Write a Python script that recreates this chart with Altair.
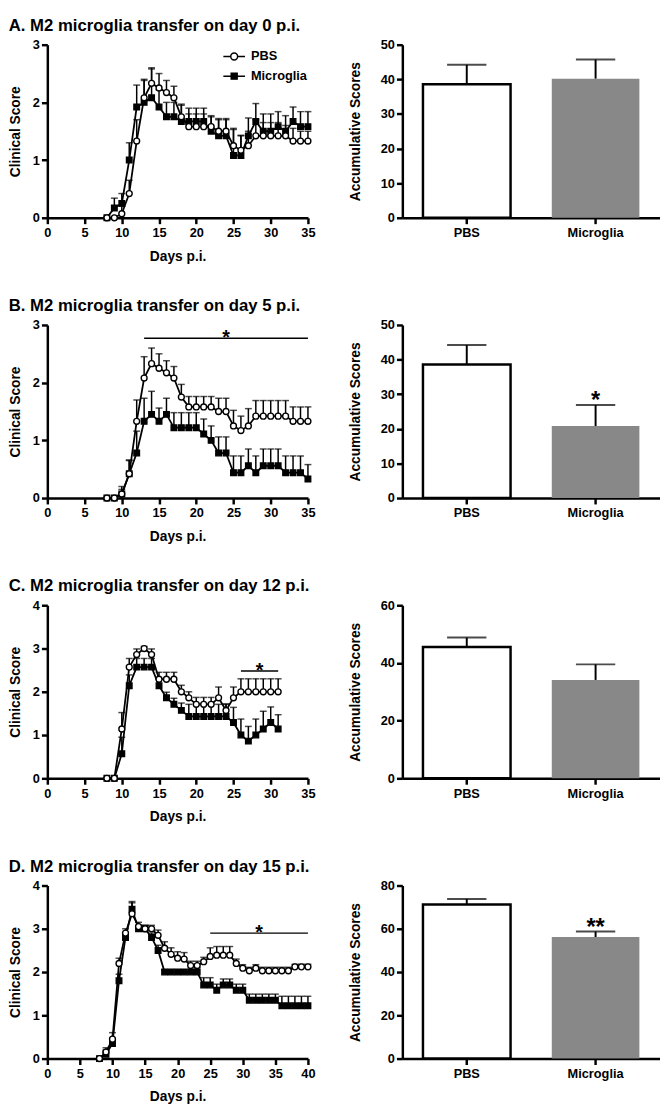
import altair as alt
import pandas as pd

FONT = "Liberation Sans"

panel_titles = [
    "A. M2 microglia transfer on day 0 p.i.",
    "B. M2 microglia transfer on day 5 p.i.",
    "C. M2 microglia transfer on day 12 p.i.",
    "D. M2 microglia transfer on day 15 p.i.",
]
groups = ["PBS", "Microglia"]

# ---- Panel A (days 8..35)
a_days = list(range(8, 36))
a_pbs = [0, 0, 0.07, 0.42, 1.33, 2.08, 2.33, 2.25, 2.17, 2.08, 1.75, 1.58, 1.58, 1.58,
         1.58, 1.5, 1.5, 1.25, 1.17, 1.25, 1.42, 1.42, 1.42, 1.42, 1.42, 1.33, 1.33, 1.33]
a_pbs_sem = [0, 0, 0.13, 0.23, 0.37, 0.3, 0.27, 0.25, 0.21, 0.2, 0.2, 0.22, 0.22, 0.22,
             0.17, 0.2, 0.2, 0.3, 0.25, 0.25, 0.28, 0.23, 0.23, 0.23, 0.18, 0.22, 0.17, 0.17]
a_mic = [0, 0.17, 0.25, 1.0, 1.92, 2.0, 2.08, 1.92, 1.75, 1.75, 1.67, 1.67, 1.67, 1.67,
         1.5, 1.42, 1.42, 1.08, 1.08, 1.42, 1.67, 1.5, 1.5, 1.58, 1.5, 1.67, 1.58, 1.58]
a_mic_sem = [0, 0.17, 0.17, 0.3, 0.38, 0.4, 0.5, 0.3, 0.25, 0.25, 0.3, 0.23, 0.23, 0.23,
             0.27, 0.3, 0.3, 0.45, 0.35, 0.31, 0.31, 0.3, 0.3, 0.26, 0.27, 0.25, 0.26, 0.26]

# ---- Panel B (days 8..35)
b_days = list(range(8, 36))
b_pbs = [0, 0, 0.07, 0.42, 1.33, 2.08, 2.33, 2.25, 2.17, 2.08, 1.75, 1.58, 1.58, 1.58,
         1.58, 1.5, 1.5, 1.25, 1.17, 1.25, 1.42, 1.42, 1.42, 1.42, 1.42, 1.33, 1.33, 1.33]
b_pbs_sem = [0, 0, 0.13, 0.23, 0.37, 0.37, 0.27, 0.25, 0.21, 0.2, 0.22, 0.18, 0.18, 0.18,
             0.18, 0.23, 0.23, 0.27, 0.25, 0.3, 0.27, 0.27, 0.27, 0.27, 0.27, 0.25, 0.25, 0.25]
b_mic = [0, 0, 0.07, 0.42, 0.78, 1.33, 1.45, 1.33, 1.45, 1.22, 1.22, 1.22, 1.22, 1.11,
         1.0, 0.78, 0.78, 0.44, 0.44, 0.56, 0.44, 0.56, 0.56, 0.56, 0.44, 0.44, 0.44, 0.33]
b_mic_sem = [0, 0, 0.08, 0.24, 0.38, 0.4, 0.4, 0.23, 0.28, 0.26, 0.26, 0.26, 0.26, 0.26,
             0.25, 0.28, 0.28, 0.29, 0.29, 0.29, 0.29, 0.29, 0.29, 0.29, 0.29, 0.29, 0.29, 0.25]

# ---- Panel C (days 8..31)
c_days = list(range(8, 32))
c_pbs = [0, 0, 1.14, 2.57, 2.86, 3.0, 2.86, 2.29, 2.29, 2.29, 2.0, 1.86, 1.71, 1.71,
         1.71, 1.86, 1.57, 1.86, 2.0, 2.0, 2.0, 2.0, 2.0, 2.0]
c_pbs_sem = [0, 0, 0.38, 0.2, 0.13, 0.05, 0.13, 0.16, 0.16, 0.16, 0.15, 0.14, 0.16, 0.16,
             0.16, 0.25, 0.15, 0.25, 0.3, 0.3, 0.3, 0.3, 0.3, 0.3]
c_mic = [0, 0, 0.57, 2.14, 2.57, 2.57, 2.57, 2.14, 1.86, 1.71, 1.57, 1.43, 1.43, 1.43,
         1.43, 1.43, 1.43, 1.29, 1.0, 0.86, 1.0, 1.14, 1.29, 1.14]
c_mic_sem = [0, 0, 0.38, 0.25, 0.2, 0.2, 0.2, 0.15, 0.13, 0.14, 0.17, 0.28, 0.28, 0.28,
             0.28, 0.28, 0.28, 0.35, 0.37, 0.34, 0.37, 0.41, 0.36, 0.33]

# ---- Panel D (days 8..40)
d_days = list(range(8, 41))
d_pbs = [0, 0.15, 0.45, 2.2, 2.9, 3.35, 3.05, 3.0, 3.0, 2.85, 2.55, 2.41, 2.32, 2.3,
         2.15, 2.15, 2.24, 2.36, 2.39, 2.39, 2.39, 2.2, 2.09, 2.03, 2.09, 2.03, 2.03,
         2.03, 2.03, 2.03, 2.12, 2.12, 2.12]
d_pbs_sem = [0, 0.1, 0.15, 0.12, 0.1, 0.25, 0.1, 0.08, 0.08, 0.12, 0.15, 0.15, 0.15, 0.15,
             0.1, 0.1, 0.1, 0.2, 0.2, 0.2, 0.2, 0.1, 0.08, 0.08, 0.08, 0.08, 0.08,
             0.08, 0.08, 0.08, 0.06, 0.06, 0.06]
d_mic = [0, 0.1, 0.35, 1.8, 2.8, 3.45, 3.0, 3.0, 2.8, 2.5, 2.0, 2.0, 2.0, 2.0,
         2.0, 2.0, 1.7, 1.7, 1.58, 1.7, 1.7, 1.58, 1.58, 1.35, 1.35, 1.35, 1.35,
         1.35, 1.22, 1.22, 1.22, 1.22, 1.22]
d_mic_sem = [0, 0.1, 0.1, 0.15, 0.1, 0.18, 0.08, 0.08, 0.1, 0.12, 0.05, 0, 0, 0,
             0, 0.1, 0.17, 0.17, 0.14, 0.14, 0.14, 0.14, 0.14, 0.14, 0.14, 0.14, 0.14,
             0.14, 0.22, 0.22, 0.22, 0.22, 0.22]

DAYS = [a_days, b_days, c_days, d_days]
PBS = [a_pbs, b_pbs, c_pbs, d_pbs]
PBS_SEM = [a_pbs_sem, b_pbs_sem, c_pbs_sem, d_pbs_sem]
MIC = [a_mic, b_mic, c_mic, d_mic]
MIC_SEM = [a_mic_sem, b_mic_sem, c_mic_sem, d_mic_sem]

x_max = [35, 35, 35, 40]
y_max = [3, 3, 4, 4]

# significance bars on the time-course plots (panel A has none)
sig_start = [None, 13, 26, 25]
sig_end = [None, 35, 31, 40]
sig_y = [None, 2.77, 2.48, 2.9]

# ---- Accumulative scores
bar_pbs = [38.6, 38.6, 45.5, 71.2]
bar_pbs_sem = [5.6, 5.6, 3.3, 2.6]
bar_mic = [40.2, 20.8, 34.1, 56.2]
bar_mic_sem = [5.5, 6.1, 5.4, 2.5]
bar_stars = ["", "*", "", "**"]
bar_max = [50, 50, 60, 80]
bar_step = [10, 10, 20, 20]

PATH_CIRCLE = ("M-1.57,0L-0.5,0M0.5,0L1.57,0"
               "M0.5,0A0.5,0.5,0,1,1,-0.5,0A0.5,0.5,0,1,1,0.5,0Z")
PATH_SQUARE = "M-1.57,0L1.57,0M-0.43,-0.43L0.43,-0.43L0.43,0.43L-0.43,0.43Z"


def line_panel(i):
    rows = []
    for g, means, sems in (("PBS", PBS[i], PBS_SEM[i]), ("Microglia", MIC[i], MIC_SEM[i])):
        for d, m, s in zip(DAYS[i], means, sems):
            rows.append({"day": d, "group": g, "mean": m, "upper": m + s, "sem": s})
    df = pd.DataFrame(rows)
    xs = alt.Scale(domain=[0, x_max[i]], nice=False)
    ys = alt.Scale(domain=[0, y_max[i]], nice=False)
    xaxis = alt.Axis(values=list(range(0, x_max[i] + 1, 5)), labelFlush=False,
                     labelPadding=3, titlePadding=10)
    yaxis = alt.Axis(values=list(range(0, y_max[i] + 1)), labelFlush=False, titlePadding=10)

    def X(f):
        return alt.X(f, scale=xs, axis=xaxis, title="Days p.i.")

    def Y(f):
        return alt.Y(f, scale=ys, axis=yaxis, title="Clinical Score")

    base = alt.Chart(df)
    layers = []
    for g, shape, fill, size in (("Microglia", "square", "black", 32),
                                 ("PBS", "circle", "white", 36)):
        sub = base.transform_filter(alt.datum.group == g)
        eb = sub.transform_filter(alt.datum.sem > 0)
        layers.append(eb.mark_rule(color="black", strokeWidth=1.5).encode(
            x=X("day:Q"), y=Y("mean:Q"), y2="upper:Q"))
        layers.append(eb.mark_tick(orient="horizontal", size=7, thickness=1.5,
                                   color="black").encode(x=X("day:Q"), y=Y("upper:Q")))
        layers.append(sub.mark_line(color="black", strokeWidth=1.8).encode(
            x=X("day:Q"), y=Y("mean:Q")))
        layers.append(sub.mark_point(shape=shape, filled=True, fill=fill, stroke="black",
                                     strokeWidth=1.4, size=size, opacity=1).encode(
            x=X("day:Q"), y=Y("mean:Q")))
    if sig_start[i] is not None:
        sdf = pd.DataFrame({"start": [sig_start[i]], "end": [sig_end[i]], "y": [sig_y[i]],
                            "mid": [(sig_start[i] + sig_end[i]) / 2]})
        sc = alt.Chart(sdf)
        layers.append(sc.mark_rule(color="black", strokeWidth=1.5).encode(
            x=X("start:Q"), x2="end:Q", y=Y("y:Q")))
        layers.append(sc.mark_text(text="*", font=FONT, fontSize=20, fontWeight="bold",
                                   baseline="alphabetic", dy=6, color="black").encode(
            x=X("mid:Q"), y=Y("y:Q")))
    if i == 0:
        leg = alt.Legend(title=None, orient="none", legendX=182, legendY=4, padding=0,
                         symbolSize=196, symbolStrokeWidth=1.5, symbolStrokeColor="black",
                         symbolOpacity=1, labelFont=FONT, labelFontSize=13,
                         labelFontWeight="bold", labelColor="black", labelOffset=9,
                         rowPadding=5)
        layers.append(base.transform_filter("false").mark_point(
            filled=True, stroke="black", strokeWidth=1.5).encode(
            x=X("day:Q"), y=Y("mean:Q"),
            shape=alt.Shape("group:N", scale=alt.Scale(domain=groups,
                                                       range=[PATH_CIRCLE, PATH_SQUARE]),
                            legend=leg),
            fill=alt.Fill("group:N", scale=alt.Scale(domain=groups, range=["white", "black"]),
                          legend=leg),
            stroke=alt.Stroke("group:N", scale=alt.Scale(domain=groups,
                                                         range=["black", "black"]),
                              legend=leg)))
    return alt.layer(*layers).properties(width=265, height=176)


def bar_panel(i):
    df = pd.DataFrame({
        "group": groups,
        "mean": [bar_pbs[i], bar_mic[i]],
        "upper": [bar_pbs[i] + bar_pbs_sem[i], bar_mic[i] + bar_mic_sem[i]],
        "star": ["", bar_stars[i]],
    })
    xs = alt.Scale(domain=groups, paddingInner=0.32, paddingOuter=0.16)
    xaxis = alt.Axis(title=None, labelAngle=0, labelPadding=3)
    ys = alt.Scale(domain=[0, bar_max[i]], nice=False)
    yaxis = alt.Axis(values=list(range(0, bar_max[i] + 1, bar_step[i])), labelFlush=False,
                     titlePadding=18)

    def X():
        return alt.X("group:N", scale=xs, axis=xaxis, sort=groups, title=None)

    def Y(f):
        return alt.Y(f, scale=ys, axis=yaxis, title="Accumulative Scores")

    base = alt.Chart(df)
    pbs = base.transform_filter(alt.datum.group == "PBS").mark_bar(
        fill="white", stroke="black", strokeWidth=2.5).encode(x=X(), y=Y("mean:Q"))
    mic = base.transform_filter(alt.datum.group == "Microglia").mark_bar(
        fill="#888888").encode(x=X(), y=Y("mean:Q"))
    err = base.mark_rule(color="black", strokeWidth=2).encode(x=X(), y=Y("mean:Q"),
                                                             y2="upper:Q")
    cap = base.mark_tick(orient="horizontal", size=40, thickness=2, color="black").encode(
        x=X(), y=Y("upper:Q"))
    star = base.mark_text(font=FONT, fontSize=24, fontWeight="bold", baseline="alphabetic",
                          dy=3, color="black").encode(x=X(), y=Y("upper:Q"), text="star:N")
    return alt.layer(pbs, mic, err, cap, star).properties(width=262, height=176)


rows = []
for i in range(4):
    rows.append(
        alt.hconcat(line_panel(i), bar_panel(i), spacing=33).properties(
            title=alt.TitleParams(panel_titles[i], anchor="start", font=FONT, fontSize=17,
                                  fontWeight="bold", color="black", offset=4)))

chart = (
    alt.vconcat(*rows, spacing=35)
    .properties(padding=0)
    .configure_view(stroke=None)
    .configure_axis(domainColor="black", domainWidth=2.5, tickColor="black", tickWidth=2.5,
                    tickSize=6, labelFont=FONT, labelFontSize=13, labelFontWeight="bold",
                    labelColor="black", titleFont=FONT, titleFontSize=14,
                    titleFontWeight="bold", titleColor="black", grid=False,
                    labelOverlap=False)
)

chart.save("out.html", embed_options={"renderer": "svg", "actions": False})
